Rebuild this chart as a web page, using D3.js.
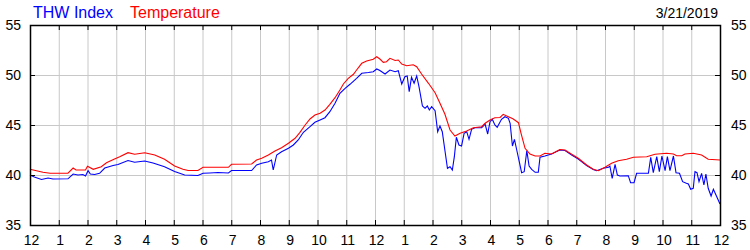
<!DOCTYPE html>
<html><head><meta charset="utf-8">
<script src="https://cdn.jsdelivr.net/npm/d3@7"></script>
<style>
html,body{margin:0;padding:0;background:#fff;}
svg{display:block;font-family:"Liberation Sans",Arial,sans-serif;}
</style></head>
<body><svg id="c" width="750" height="250"></svg>
<script>
const xLabels = ["12","1","2","3","4","5","6","7","8","9","10","11","12","1","2","3","4","5","6","7","8","9","10","11","12"];
const yTicks = [35,40,45,50,55];
const seriesNames = ["THW Index","Temperature"];
const dateLabel = "3/21/2019";

const tempTimes = [0,0.45,0.7,1.32,1.5,1.6,1.93,2.0,2.2,2.48,2.66,2.94,3.12,3.41,3.64,3.99,4.34,4.68,5.03,5.32,5.5,5.84,6.02,6.9,7.01,7.71,7.88,8.06,8.29,8.52,8.75,8.99,9.22,9.39,9.57,9.74,9.91,10.09,10.26,10.43,10.61,10.78,10.9,11.07,11.25,11.36,11.54,11.71,11.94,12.06,12.17,12.29,12.4,12.52,12.7,12.81,12.93,13.1,13.33,13.45,13.62,13.86,14.09,14.26,14.43,14.61,14.78,14.96,15.19,15.42,15.71,15.83,16.0,16.17,16.35,16.46,16.64,16.81,16.99,17.08,17.22,17.39,17.57,17.74,17.91,18.14,18.43,18.61,18.84,19.07,19.36,19.59,19.77,20.0,20.23,20.46,20.75,20.99,21.45,21.74,22.14,22.38,22.49,22.67,22.78,23.07,23.36,23.59,24.0];
const tempValues = [40.57,40.27,40.18,40.18,40.7,40.5,40.5,40.87,40.57,40.83,41.23,41.6,41.83,42.23,42.07,42.23,42.0,41.57,40.9,40.57,40.45,40.45,40.77,40.77,41.07,41.1,41.5,41.67,42.0,42.4,42.73,43.17,43.67,44.27,45.0,45.6,46.0,46.17,46.5,47.07,47.73,48.5,49.1,49.67,50.07,50.5,51.17,51.4,51.57,51.83,51.6,51.27,51.33,51.67,51.45,51.5,51.1,50.93,51.03,50.83,50.1,49.17,48.23,47.17,46.1,44.5,43.9,44.17,44.4,44.73,44.83,45.17,45.5,45.73,45.75,46.07,45.83,45.6,45.23,44.17,42.67,42.1,41.9,41.9,42.17,42.1,42.55,42.5,42.07,41.67,41.0,40.57,40.43,40.77,41.17,41.43,41.57,41.77,41.83,42.07,42.17,42.1,41.93,41.93,42.1,42.17,42.0,41.57,41.5];

const thwTimes = [0,0.15,0.4,0.63,0.8,1.32,1.5,1.67,1.84,1.93,2.02,2.1,2.25,2.42,2.6,2.89,3.06,3.41,3.64,3.99,4.28,4.68,5.03,5.38,5.84,6.02,6.25,6.54,6.9,7.01,7.71,7.88,8.06,8.29,8.4,8.46,8.58,8.75,8.99,9.16,9.33,9.51,9.74,9.91,10.09,10.26,10.43,10.61,10.78,10.96,11.13,11.36,11.54,11.77,11.94,12.06,12.17,12.35,12.52,12.7,12.81,12.93,13.04,13.12,13.19,13.27,13.36,13.45,13.53,13.65,13.74,13.82,13.89,13.97,14.09,14.18,14.26,14.34,14.43,14.52,14.61,14.69,14.76,14.83,14.92,15.01,15.1,15.19,15.27,15.36,15.48,15.71,15.83,15.92,16.0,16.08,16.17,16.25,16.4,16.52,16.64,16.7,16.78,16.85,16.93,17.01,17.1,17.19,17.28,17.36,17.45,17.57,17.68,17.74,17.91,18.14,18.43,18.61,18.84,19.07,19.36,19.59,19.71,19.94,20.12,20.17,20.25,20.35,20.43,20.52,20.81,20.89,21.01,21.1,21.51,21.59,21.68,21.8,21.89,21.98,22.09,22.17,22.26,22.38,22.47,22.59,22.7,22.83,22.9,22.98,23.07,23.13,23.2,23.27,23.36,23.44,23.51,23.59,23.69,23.77,23.86,24.0];
const thwValues = [40.0,39.8,39.55,39.7,39.6,39.62,40.1,40.0,40.05,39.9,40.43,40.1,40.05,40.17,40.7,40.95,41.05,41.45,41.27,41.4,41.2,40.83,40.35,40.0,39.95,40.17,40.2,40.25,40.2,40.45,40.45,41.0,41.17,41.33,41.5,40.5,42.0,42.33,42.67,43.0,43.5,44.27,44.83,45.27,45.5,45.73,46.33,47.17,48.17,48.67,49.07,49.67,50.17,50.25,50.33,50.6,50.45,50.1,50.5,50.33,50.43,49.1,49.83,49.9,48.33,49.77,49.17,49.9,48.83,46.9,46.67,46.9,46.5,46.83,46.43,44.33,44.9,44.33,42.5,40.67,40.83,40.5,41.83,43.77,43.0,42.9,44.17,44.33,43.57,44.57,44.73,44.73,45.1,44.1,45.33,45.57,45.0,44.77,45.57,45.83,45.67,45.17,42.9,43.57,42.5,41.43,40.23,40.33,42.43,40.9,40.57,40.27,40.27,41.77,41.9,42.1,42.5,42.45,42.0,41.6,40.95,40.55,40.43,40.67,40.77,40.9,39.67,41.07,40.0,39.9,39.93,39.23,39.23,40.17,40.17,41.77,40.23,41.83,40.33,41.9,40.43,41.83,40.43,41.9,40.23,40.17,39.33,39.17,39.1,38.57,38.67,40.33,40.23,39.33,40.17,39.0,40.1,38.67,37.9,38.57,38.0,37.1];

const W = 750, H = 250;
const L = 30, R = 720, T = 25, B = 225;
const svg = d3.select("#c");
const x = d3.scaleLinear().domain([0,24]).range([L,R]);
const y = d3.scaleLinear().domain([35,55]).range([B,T]);
const hours = d3.range(0,25);

// grid
const g = svg.append("g");
g.selectAll("line.vg").data(hours.slice(1,24)).enter().append("line")
  .attr("x1",d=>x(d)+0.5).attr("x2",d=>x(d)+0.5).attr("y1",T).attr("y2",B)
  .attr("stroke","#c8c8c8").attr("stroke-width",1);
g.selectAll("line.hg").data(yTicks.slice(1,-1)).enter().append("line")
  .attr("y1",d=>y(d)+0.5).attr("y2",d=>y(d)+0.5).attr("x1",L).attr("x2",R)
  .attr("stroke","#c8c8c8").attr("stroke-width",1);

// lines
const mk = (ts,vs)=>ts.map((t,i)=>[t,vs[i]]);
const line = d3.line().x(d=>x(d[0])).y(d=>y(d[1]));
svg.append("path").datum(mk(thwTimes,thwValues)).attr("d",line)
  .attr("fill","none").attr("stroke","#0000ff").attr("stroke-width",1.1);
svg.append("path").datum(mk(tempTimes,tempValues)).attr("d",line)
  .attr("fill","none").attr("stroke","#ff0000").attr("stroke-width",1.1);

// axes
const fs = "14px";
const axB = d3.axisBottom(x).tickValues(hours).tickFormat((d,i)=>xLabels[i]).tickSizeInner(-5).tickSizeOuter(0).tickPadding(10);
const axT = d3.axisTop(x).tickValues(hours).tickFormat("").tickSizeInner(-5).tickSizeOuter(0);
const axL = d3.axisLeft(y).tickValues(yTicks).tickSizeInner(-5).tickSizeOuter(0).tickPadding(9);
const axR = d3.axisRight(y).tickValues(yTicks).tickSizeInner(-5).tickSizeOuter(0).tickPadding(11);
function style(sel){
  sel.selectAll(".domain").remove();
  sel.selectAll(".tick line").attr("stroke","#000");
  sel.selectAll(".tick text").attr("fill","#000").style("font-size",fs).style("font-family","'Liberation Sans',Arial,sans-serif");
}
svg.append("g").attr("transform",`translate(0,${B})`).call(axB).call(style)
  .selectAll(".tick text").attr("dx",1);
svg.append("g").attr("transform",`translate(0,${T})`).call(axT).call(style);
svg.append("g").attr("transform",`translate(${L},0)`).call(axL).call(style);
svg.append("g").attr("transform",`translate(${R},0)`).call(axR).call(style);

// frame
svg.append("rect").attr("x",L+0.5).attr("y",T+0.5).attr("width",R-L).attr("height",B-T)
  .attr("fill","none").attr("stroke","#000").attr("stroke-width",1.5);

// titles
svg.append("text").attr("x",33).attr("y",18).attr("fill","#0000ff").style("font-size","16px").text(seriesNames[0]);
svg.append("text").attr("x",130).attr("y",18).attr("fill","#ff0000").style("font-size","16px").text(seriesNames[1]);
svg.append("text").attr("x",718).attr("y",18).attr("text-anchor","end").attr("fill","#000").style("font-size","14px").text(dateLabel);
</script></body></html>
